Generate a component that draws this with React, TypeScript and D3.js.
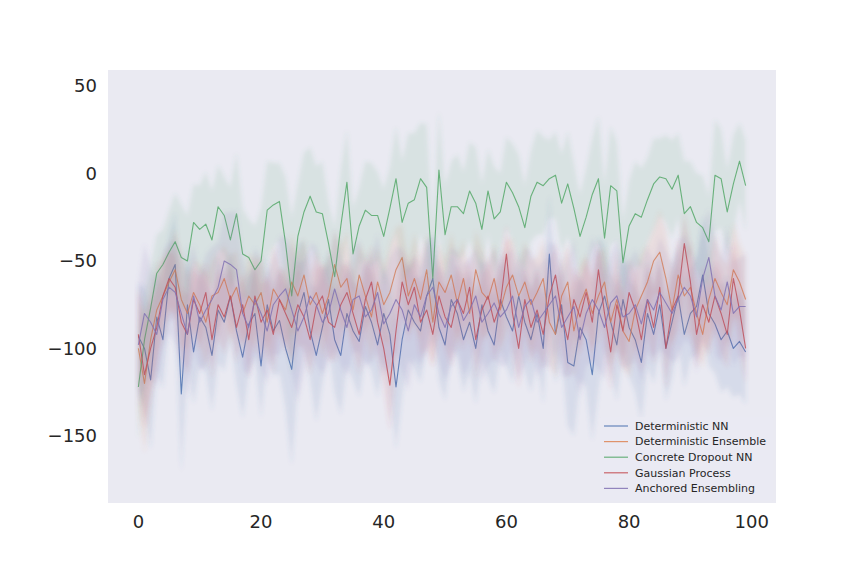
import React from "react";
import * as d3 from "d3";

const xs = d3.range(100);

const seriesNames = [
  "Deterministic NN",
  "Deterministic Ensemble",
  "Concrete Dropout NN",
  "Gaussian Process",
  "Anchored Ensembling",
];
const seriesColors = ["#4C72B0", "#DD8452", "#55A868", "#C44E52", "#8172B3"];

const detNN = [
  -93, -100, -118, -82, -95, -60, -52, -126, -75, -102,
  -82, -88, -104, -78, -85, -70, -90, -105, -86, -80,
  -110, -75, -90, -84, -100, -112, -80, -68, -90, -104,
  -88, -72, -95, -104, -80, -90, -96, -76, -85, -98,
  -80, -92, -122, -95, -78, -85, -90, -70, -60, -88,
  -98, -72, -80, -95, -85, -100, -75, -90, -98, -72,
  -82, -90, -70, -85, -95, -80, -100, -46, -92, -75,
  -108, -110, -88, -95, -115, -80, -70, -85, -98, -72,
  -88, -95, -108, -80, -92, -75, -100, -85, -70, -92,
  -80, -76, -58, -80, -86, -95, -90, -100, -96, -102,
];
const detEns = [
  -100, -120, -95, -78, -70, -62, -55, -72, -80, -68,
  -75, -85, -70, -68, -60, -72, -65, -80, -70, -75,
  -68, -85, -66, -72, -78, -62, -70, -58, -75, -68,
  -80, -70, -52, -65, -60, -78, -58, -70, -82, -62,
  -75, -68, -55, -48, -70, -60, -72, -55, -85, -62,
  -68, -58, -74, -60, -80, -55, -68, -72, -60, -78,
  -65, -58, -70, -62, -75, -68, -60, -85, -92, -70,
  -62, -90, -75, -66, -80, -70, -62, -85, -72, -90,
  -96, -78, -70, -62, -50, -45, -60, -78, -58, -70,
  -65, -80, -92, -72, -60, -68, -75, -55, -62, -72,
];
const concrete = [
  -122, -95, -77, -57, -52, -45, -39, -48, -50, -28,
  -32, -29, -38, -19, -24, -38, -23, -46, -48, -55,
  -50, -21, -18, -16, -40, -70, -36, -22, -13, -22,
  -23, -40, -59, -30, -5, -46, -30, -21, -24, -24,
  -36, -20, -3, -28, -17, -15, -3, -8, -60, 2,
  -35, -19, -19, -23, -10, -17, -32, -10, -26, -22,
  -5, -11, -19, -31, -13, -5, -7, -3, -1, -17,
  -6, -20, -36, -25, -12, -3, -37, -7, -10, -51,
  -30, -23, -25, -15, -6, -2, -3, -9, -1, -23,
  -19, -28, -31, -39, -1, -3, -22, -6, 7, -7,
];
const gp = [
  -92, -115, -100, -88, -70, -60, -65, -85, -92, -72,
  -80, -68, -95, -75, -82, -70, -88, -75, -95, -70,
  -85, -78, -92, -72, -80, -88, -75, -82, -95, -76,
  -70, -85, -88, -75, -68, -80, -92, -72, -62, -85,
  -100, -121, -90, -62, -75, -65, -85, -78, -92, -70,
  -82, -88, -72, -80, -65, -95, -78, -70, -85, -75,
  -46, -80, -100, -72, -88, -78, -92, -70, -58, -80,
  -95, -72, -82, -68, -85, -55, -80, -102, -75, -90,
  -68, -78, -95, -72, -88, -65, -100, -78, -70, -40,
  -62, -92, -75, -85, -70, -80, -92, -60, -78, -100,
];
const anchored = [
  -98, -80, -85, -92, -72, -65, -68, -80, -92, -70,
  -85, -78, -72, -65, -50, -52, -55, -80, -88, -72,
  -80, -90, -75, -70, -66, -78, -90, -82, -70, -75,
  -85, -80, -66, -78, -88, -72, -70, -82, -78, -68,
  -86, -80, -72, -78, -90, -75, -82, -70, -65, -80,
  -88, -76, -72, -84, -78, -70, -85, -80, -74, -82,
  -78, -70, -88, -76, -72, -85, -80, -75, -70, -88,
  -82, -76, -95, -80, -72, -78, -88, -74, -70, -82,
  -80, -75, -86, -72, -78, -68, -74, -80, -72, -65,
  -70, -82, -60, -48, -70, -78, -62, -80, -76, -76,
];

const detNNStd = [
  30, 35, 40, 32, 28, 25, 30, 45, 35, 30,
  28, 26, 32, 30, 28, 25, 30, 35, 28, 26,
  30, 28, 26, 30, 34, 55, 40, 30, 28, 38,
  32, 28, 30, 34, 30, 28, 32, 30, 28, 30,
  26, 30, 36, 32, 28, 26, 30, 28, 24, 30,
  32, 28, 26, 30, 28, 32, 30, 26, 28, 30,
  28, 30, 26, 28, 30, 26, 32, 34, 28, 30,
  36, 40, 30, 28, 38, 44, 30, 28, 32, 30,
  28, 30, 34, 30, 28, 26, 30, 32, 28, 30,
  26, 28, 34, 30, 28, 30, 32, 28, 30, 30,
];
const detEnsStd = [
  35, 40, 30, 26, 22, 19, 23, 27, 21, 18,
  24, 26, 20, 23, 19, 25, 21, 18, 24, 27,
  20, 23, 25, 19, 22, 28, 24, 21, 18, 23,
  26, 22, 19, 24, 27, 21, 18, 23, 25, 20,
  22, 28, 24, 19, 21, 26, 23, 20, 25, 22,
  19, 24, 27, 22, 18, 23, 26, 21, 20, 24,
  27, 21, 19, 23, 26, 20, 22, 25, 24, 19,
  22, 26, 23, 20, 21, 25, 19, 24, 27, 22,
  20, 23, 25, 22, 19, 24, 28, 21, 20, 23,
  26, 21, 19, 24, 25, 20, 23, 27, 22, 24,
];
const concreteStd = [
  30, 28, 25, 22, 20, 24, 28, 30, 26, 22,
  25, 30, 28, 24, 22, 30, 35, 26, 22, 25,
  30, 28, 24, 22, 38, 45, 30, 34, 28, 26,
  30, 24, 28, 32, 30, 26, 22, 28, 30, 25,
  27, 24, 30, 35, 40, 38, 32, 36, 30, 34,
  28, 26, 30, 24, 28, 32, 26, 24, 30, 22,
  26, 28, 30, 24, 26, 30, 28, 22, 25, 28,
  30, 26, 24, 28, 32, 36, 30, 34, 28, 24,
  26, 30, 28, 24, 26, 22, 25, 28, 24, 30,
  26, 28, 30, 26, 32, 28, 24, 28, 22, 26,
];
const gpStd = [
  25, 30, 26, 22, 18, 16, 18, 20, 22, 18,
  20, 17, 22, 19, 21, 18, 20, 17, 22, 19,
  21, 18, 22, 17, 20, 19, 23, 18, 20, 22,
  18, 21, 19, 22, 17, 20, 23, 18, 21, 19,
  22, 26, 20, 18, 21, 17, 20, 22, 19, 21,
  18, 22, 19, 21, 17, 23, 20, 18, 22, 19,
  17, 21, 23, 18, 20, 22, 19, 21, 17, 20,
  22, 18, 21, 19, 23, 17, 20, 22, 18, 21,
  19, 22, 18, 20, 21, 17, 23, 19, 20, 18,
  21, 19, 22, 18, 20, 23, 19, 21, 22, 20,
];
const anchoredStd = [
  35, 40, 32, 30, 28, 26, 30, 34, 36, 30,
  28, 32, 30, 26, 28, 30, 34, 32, 28, 30,
  32, 30, 28, 34, 30, 36, 40, 32, 30, 34,
  30, 28, 34, 32, 28, 30, 32, 28, 30, 34,
  28, 32, 30, 36, 34, 30, 28, 32, 30, 28,
  30, 34, 28, 32, 30, 28, 34, 30, 32, 28,
  32, 28, 30, 34, 28, 32, 30, 36, 30, 28,
  34, 38, 32, 30, 36, 34, 30, 28, 32, 30,
  30, 32, 34, 30, 28, 32, 30, 28, 34, 30,
  28, 32, 30, 28, 34, 30, 32, 30, 28, 30,
];

const seriesMeans = [detNN, detEns, concrete, gp, anchored];
const seriesStds = [detNNStd, detEnsStd, concreteStd, gpStd, anchoredStd];

const xTicks = [0, 20, 40, 60, 80, 100];
const yTicks = [50, 0, -50, -100, -150];

const W = 864;
const H = 576;
const plotL = 108;
const plotR = 776;
const plotT = 70;
const plotB = 503;

export default function App() {
  const x = d3.scaleLinear().domain([-4.95, 103.95]).range([plotL, plotR]);
  const y = d3.scaleLinear().domain([-188.3, 59.1]).range([plotB, plotT]);

  const lineGen = (vals: number[]) =>
    d3
      .line<number>()
      .x((_, i) => x(xs[i]))
      .y((d) => y(d))(vals) || "";

  const areaGen = (vals: number[], sd: number[]) =>
    d3
      .area<number>()
      .x((_, i) => x(xs[i]))
      .y0((d, i) => y(d - sd[i]))
      .y1((d, i) => y(d + sd[i]))(vals) || "";

  const fmt = (v: number) => (v < 0 ? "\u2212" + Math.abs(v) : String(v));
  const font = "'DejaVu Sans', sans-serif";

  const legX = 600;
  const legY = 417;
  const rowH = 15.6;

  return (
    <svg
      width={W}
      height={H}
      style={{ position: "absolute", left: 0, top: 0, background: "#fff" }}
      fontFamily={font}
    >
      <defs>
        <clipPath id="plotclip">
          <rect x={plotL} y={plotT} width={plotR - plotL} height={plotB - plotT} />
        </clipPath>
        <filter id="soft" x="-5%" y="-5%" width="110%" height="110%">
          <feGaussianBlur stdDeviation="2" />
        </filter>
      </defs>
      <rect x={0} y={0} width={W} height={H} fill="#ffffff" />
      <rect x={plotL} y={plotT} width={plotR - plotL} height={plotB - plotT} fill="#EAEAF2" />
      <g clipPath="url(#plotclip)">
        {seriesMeans.map((m, k) => (
          <g key={k}>
            <path
              d={areaGen(m, seriesStds[k])}
              fill={seriesColors[k]}
              fillOpacity={0.12}
              stroke="none"
              filter="url(#soft)"
            />
            <path
              d={lineGen(m)}
              fill="none"
              stroke={seriesColors[k]}
              strokeWidth={1.1}
              strokeOpacity={0.85}
              strokeLinejoin="round"
            />
          </g>
        ))}
      </g>
      {yTicks.map((t) => (
        <text
          key={t}
          x={plotL - 11}
          y={y(t)}
          dy="0.36em"
          textAnchor="end"
          fontSize={18}
          fill="#262626"
        >
          {fmt(t)}
        </text>
      ))}
      {xTicks.map((t) => (
        <text
          key={t}
          x={x(t)}
          y={plotB + 25}
          textAnchor="middle"
          fontSize={18}
          fill="#262626"
        >
          {fmt(t)}
        </text>
      ))}
      <g>
        <rect
          x={legX}
          y={legY}
          width={173}
          height={84}
          fill="#EAEAF2"
          fillOpacity={0.8}
          rx={2}
        />
        {seriesNames.map((n, k) => (
          <g key={n}>
            <line
              x1={legX + 4}
              x2={legX + 28}
              y1={legY + 9 + k * rowH}
              y2={legY + 9 + k * rowH}
              stroke={seriesColors[k]}
              strokeWidth={1.2}
              strokeOpacity={0.85}
            />
            <text
              x={legX + 35}
              y={legY + 9 + k * rowH}
              dy="0.35em"
              fontSize={11}
              fill="#262626"
            >
              {n}
            </text>
          </g>
        ))}
      </g>
    </svg>
  );
}
